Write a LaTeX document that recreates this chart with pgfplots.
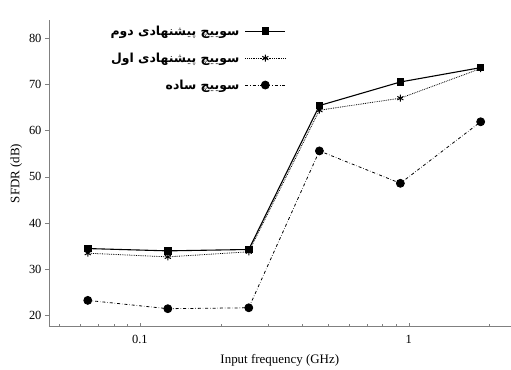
\documentclass[border=0pt]{standalone}
\usepackage{pgfplots}
\pgfplotsset{compat=1.18}
\usepackage{fontspec}
\setmainfont{Liberation Serif}
\newfontfamily\arabicfont[Script=Arabic]{DejaVu Sans}
\TeXXeTstate=1
\begin{document}
\begin{tikzpicture}
\begin{axis}[
  scale only axis, width=462bp, height=307bp,
  xmode=log, xmin=0.0459, xmax=2.39, ymin=17.6, ymax=83.9,
  axis lines=left, axis line style={black!50, -, line width=0.8pt},
  xtick={0.1,1}, xticklabels={0.1,1},
  minor xtick={0.05,0.06,0.07,0.08,0.09,0.2,0.3,0.4,0.5,0.6,0.7,0.8,0.9,2},
  ytick={20,30,40,50,60,70,80},
  xtick align=inside, ytick align=outside,
  tick style={black!50, line width=0.6pt},
  major tick length=4bp, minor tick length=3bp,
  /pgf/number format/assume math mode=true,
  tick label style={font=\fontsize{12.5}{14}\selectfont},
  xticklabel style={yshift=-5bp},
  label style={font=\fontsize{13}{15}\selectfont},
  xlabel={Input frequency (GHz)},
  xlabel style={yshift=-4bp},
  ylabel={SFDR (dB)},
  legend plot pos=right,
  legend cell align=right,
  legend style={draw=none, fill=none, at={(0.52,0.995)}, anchor=north east,
    row sep=12bp, font=\arabicfont\bfseries\fontsize{12.5}{14}\selectfont,
    nodes={inner sep=2bp}},
  legend image code/.code={\path (0cm,0cm); \draw[mark repeat=2,mark phase=2,#1] plot coordinates {(0.12cm,0cm) (0.825cm,0cm) (1.53cm,0cm)};},
]
\addplot[black, line width=1.1pt, mark=square*, mark size=3.2bp] coordinates {
  (0.064,34.5) (0.127,34.0) (0.254,34.3) (0.465,65.4) (0.93,70.5) (1.85,73.6)};
\addlegendentry{\beginR سوییچ پیشنهادی دوم\endR}
\addplot[black, densely dotted, line width=0.8pt, mark=asterisk, mark size=3.5bp, mark options={solid, line width=1pt}] coordinates {
  (0.064,33.5) (0.127,32.7) (0.254,33.8) (0.465,64.4) (0.93,67.0) (1.85,73.4)};
\addlegendentry{\beginR سوییچ پیشنهادی اول\endR}
\addplot[black, dash dot, line width=0.8pt, mark=*, mark size=4bp, mark options={solid}] coordinates {
  (0.064,23.3) (0.127,21.5) (0.254,21.7) (0.465,55.6) (0.93,48.6) (1.85,61.9)};
\addlegendentry{\beginR سوییچ ساده\endR}
\end{axis}
\path (-49bp,-42bp) rectangle (462bp,327bp);
\end{tikzpicture}
\end{document}
